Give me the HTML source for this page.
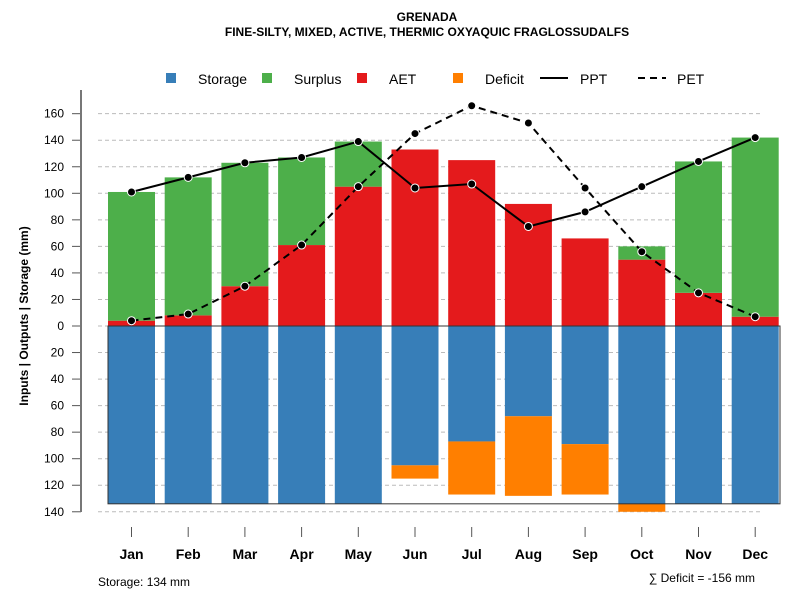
<!DOCTYPE html>
<html><head><meta charset="utf-8"><style>
body{margin:0;background:#fff}
svg text{font-family:"Liberation Sans",Arial,sans-serif}
</style></head><body>
<svg id="c" width="800" height="600" xmlns="http://www.w3.org/2000/svg">
<text x="427" y="21" text-anchor="middle" font-size="12" font-weight="bold">GRENADA</text>
<text x="427" y="36" text-anchor="middle" font-size="12" font-weight="bold">FINE-SILTY, MIXED, ACTIVE, THERMIC OXYAQUIC FRAGLOSSUDALFS</text>
<g>
<rect x="166" y="73" width="10" height="10" fill="#377eb8"/>
<text x="198" y="84" font-size="14">Storage</text>
<rect x="262" y="73" width="10" height="10" fill="#4daf4a"/>
<text x="294" y="84" font-size="14">Surplus</text>
<rect x="357" y="73" width="10" height="10" fill="#e41a1c"/>
<text x="389" y="84" font-size="14">AET</text>
<rect x="453" y="73" width="10" height="10" fill="#ff7f00"/>
<text x="485" y="84" font-size="14">Deficit</text>
<line x1="540" y1="78" x2="568" y2="78" stroke="#000" stroke-width="2"/>
<text x="580" y="84" font-size="14">PPT</text>
<line x1="638" y1="78" x2="666" y2="78" stroke="#000" stroke-width="2" stroke-dasharray="7,5"/>
<text x="677" y="84" font-size="14">PET</text>
</g>
<text transform="translate(28,316) rotate(-90)" text-anchor="middle" font-size="12" font-weight="bold">Inputs | Outputs | Storage    (mm)</text>
<text x="98" y="586" font-size="12">Storage: 134 mm</text>
<text x="755" y="582" text-anchor="end" font-size="12">∑ Deficit = -156 mm</text>
<g id="plot"></g>
</svg>
<script>
const months=["Jan","Feb","Mar","Apr","May","Jun","Jul","Aug","Sep","Oct","Nov","Dec"];
const aet=[4,8,30,61,105,133,125,92,66,50,25,7];
const surplus=[97,104,93,66,34,0,0,0,0,10,99,135];
const storage=[134,134,134,134,134,105,87,68,89,134,134,134];
const deficit=[0,0,0,0,0,10,40,60,38,6,0,0];
const ppt=[101,112,123,127,139,104,107,75,86,105,124,142];
const pet=[4,9,30,61,105,145,166,153,104,56,25,7];
const yTicks=[-140,-120,-100,-80,-60,-40,-20,0,20,40,60,80,100,120,140,160];
const NS="http://www.w3.org/2000/svg";
const g=document.getElementById('plot');
const y=v=>326-v*1.327;
const x=i=>131.5+i*56.7;
const bw=47;
function mk(t,a,name){const e=document.createElementNS(NS,t);for(const k in a)e.setAttribute(k,a[k]);


g.appendChild(e);return e;}
yTicks.forEach(v=>{
 mk('line',{x1:98,x2:760,y1:y(v),y2:y(v),stroke:'#bbb','stroke-dasharray':'4,3'},'gridline');
 mk('line',{x1:72,x2:81,y1:y(v),y2:y(v),stroke:'#555'},'y-tick');
 const t=mk('text',{x:64,y:y(v)+4,'text-anchor':'end','font-size':12},'y-tick-label');t.textContent=Math.abs(v);
});
mk('line',{x1:81,x2:81,y1:90,y2:512,stroke:'#777','stroke-width':2},'y-axis');
months.forEach((m,i)=>{
 const cx=x(i);
 mk('rect',{x:cx-bw/2,y:y(aet[i]),width:bw,height:aet[i]*1.327,fill:'#e41a1c'},'bar-aet');
 mk('rect',{x:cx-bw/2,y:y(aet[i]+surplus[i]),width:bw,height:surplus[i]*1.327,fill:'#4daf4a'},'bar-surplus');
 mk('rect',{x:cx-bw/2,y:326,width:bw,height:storage[i]*1.327,fill:'#377eb8'},'bar-storage');
 mk('rect',{x:cx-bw/2,y:y(-storage[i]),width:bw,height:deficit[i]*1.327,fill:'#ff7f00'},'bar-deficit');
 mk('line',{x1:cx,x2:cx,y1:527,y2:537,stroke:'#555'},'x-tick');
 const t=mk('text',{x:cx,y:559,'text-anchor':'middle','font-size':14,'font-weight':'bold'},'x-tick-label');t.textContent=m;
});
mk('rect',{x:108,y:326,width:672,height:134*1.327,fill:'none',stroke:'#333'},'storage-capacity-box');
mk('polyline',{points:ppt.map((v,i)=>x(i)+','+y(v)).join(' '),fill:'none',stroke:'#000','stroke-width':2},'ppt-line');
mk('polyline',{points:pet.map((v,i)=>x(i)+','+y(v)).join(' '),fill:'none',stroke:'#000','stroke-width':2,'stroke-dasharray':'7,5'},'pet-line');
ppt.forEach((v,i)=>mk('circle',{cx:x(i),cy:y(v),r:4,fill:'#000',stroke:'#fff','stroke-width':1},'ppt-point'));
pet.forEach((v,i)=>mk('circle',{cx:x(i),cy:y(v),r:4,fill:'#000',stroke:'#fff','stroke-width':1},'pet-point'));
</script>
</body></html>
